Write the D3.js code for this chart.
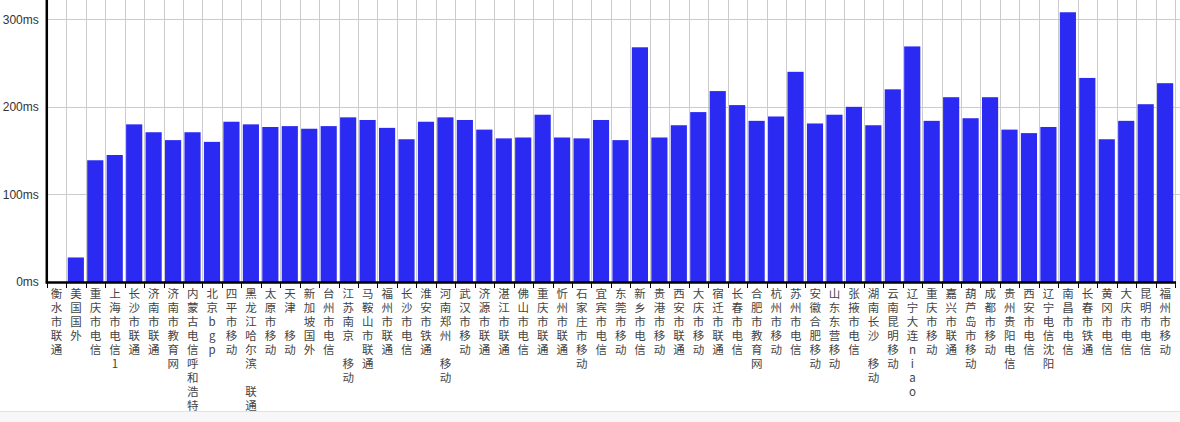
<!DOCTYPE html>
<html>
<head>
<meta charset="utf-8">
<script src="https://cdn.jsdelivr.net/npm/d3@7"></script>
<style>
  html, body { margin: 0; padding: 0; background: #fff; }
  svg { display: block; }
</style>
</head>
<body>
<svg id="chart" width="1180" height="422"></svg>
<script>
const categories = [
  "衡水市联通","美国国外","重庆市电信","上海市电信1","长沙市联通","济南市联通","济南市教育网","内蒙古电信呼和浩特",
  "北京bgp","四平市移动","黑龙江哈尔滨 联通","太原市移动","天津 移动","新加坡国外","台州市电信","江苏南京 移动",
  "马鞍山市联通","福州市联通","长沙市电信","淮安市铁通","河南郑州 移动","武汉市移动","济源市联通","湛江市联通",
  "佛山市电信","重庆市联通","忻州市联通","石家庄市移动","宜宾市电信","东莞市移动","新乡市电信","贵港市移动",
  "西安市联通","大庆市移动","宿迁市联通","长春市电信","合肥市教育网","杭州市移动","苏州市电信","安徽合肥移动",
  "山东东营移动","张掖市电信","湖南长沙 移动","云南昆明移动","辽宁大连niao","重庆市移动","嘉兴市联通","葫芦岛市移动",
  "成都市移动","贵州贵阳电信","西安市电信","辽宁电信沈阳","南昌市电信","长春市铁通","黄冈市电信","大庆市电信",
  "昆明市电信","福州市移动"
];
const latency = [
  0, 28, 139, 145, 180, 171, 162, 171,
  160, 183, 180, 177, 178, 175, 178, 188,
  185, 176, 163, 183, 188, 185, 174, 164,
  165, 191, 165, 164, 185, 162, 268, 165,
  179, 194, 218, 202, 184, 189, 240, 181,
  191, 200, 179, 220, 269, 184, 211, 187,
  211, 174, 170, 177, 308, 233, 163, 184,
  203, 227
];
const yTicks = [0, 100, 200, 300];
const yMax = 322;

(function () {
const svg = d3.select("#chart");
const W = 1180, H = 422;
const mLeft = 46.8, mRight = 1175, mTop = 0, mBottom = 282;

const x = d3.scaleBand().domain(categories).range([mLeft, mRight]).padding(0);
const y = d3.scaleLinear().domain([0, yMax]).range([mBottom, mTop]);

// bottom strip
svg.append("rect").attr("x", 0).attr("y", 411).attr("width", W).attr("height", H - 411).attr("fill", "#f7f7f7");
svg.append("line").attr("x1", 0).attr("x2", W).attr("y1", 411.5).attr("y2", 411.5).attr("stroke", "#e2e2e2");

// horizontal grid
svg.append("g").selectAll("line").data(yTicks.filter(d => d > 0)).join("line")
  .attr("x1", mLeft).attr("x2", W)
  .attr("y1", d => Math.round(y(d)) + 0.5).attr("y2", d => Math.round(y(d)) + 0.5)
  .attr("stroke", "#cccccc").attr("stroke-width", 1);

// vertical grid at band boundaries
const bounds = categories.slice(1).map(c => x(c)).concat([x(categories[categories.length - 1]) + x.bandwidth()]);
svg.append("g").selectAll("line").data(bounds).join("line")
  .attr("x1", d => Math.round(d) + 0.5).attr("x2", d => Math.round(d) + 0.5)
  .attr("y1", 0).attr("y2", mBottom)
  .attr("stroke", "#cccccc").attr("stroke-width", 1);

// bars
const pad = 1.5;
svg.append("g").selectAll("rect").data(categories).join("rect")
  .attr("x", (d) => x(d) + pad)
  .attr("width", x.bandwidth() - 2 * pad - 0.3)
  .attr("y", (d, i) => y(latency[i]))
  .attr("height", (d, i) => mBottom - y(latency[i]))
  .attr("fill", "#2b2af2");

// y axis
const yAxis = d3.axisLeft(y).tickValues(yTicks).tickFormat(d => d + "ms").tickSize(0).tickPadding(8);
const gy = svg.append("g").attr("transform", `translate(${mLeft},0)`).call(yAxis);
gy.select(".domain").remove();
gy.selectAll("text").attr("font-family", "Arial, 'Liberation Sans', sans-serif").attr("font-size", 12).attr("fill", "#333");
svg.append("line").attr("x1", mLeft).attr("x2", mLeft).attr("y1", 0).attr("y2", mBottom + 1.5)
  .attr("stroke", "#000").attr("stroke-width", 2.5);

// x axis line and ticks
svg.append("line").attr("x1", mLeft - 1).attr("x2", mRight + 1).attr("y1", mBottom + 0.5).attr("y2", mBottom + 0.5)
  .attr("stroke", "#000").attr("stroke-width", 2.5);
const tickPos = [mLeft].concat(bounds);
svg.append("g").selectAll("line").data(tickPos).join("line")
  .attr("x1", d => Math.round(d) + 0.5).attr("x2", d => Math.round(d) + 0.5)
  .attr("y1", mBottom).attr("y2", mBottom + 6)
  .attr("stroke", "#000").attr("stroke-width", 1);

// x labels, vertical one char per line
const lab = svg.append("g").attr("font-family", "'Noto Sans CJK SC', sans-serif").attr("font-size", 11.5).attr("fill", "#444");
categories.forEach((c) => {
  const cx = x(c) + x.bandwidth() / 2;
  const t = lab.append("text").attr("text-anchor", "middle");
  Array.from(c).forEach((ch, j) => {
    t.append("tspan").attr("x", cx).attr("y", 297.5 + j * 14).text(ch === " " ? "\u00a0" : ch);
  });
});
})();
</script>
</body>
</html>
